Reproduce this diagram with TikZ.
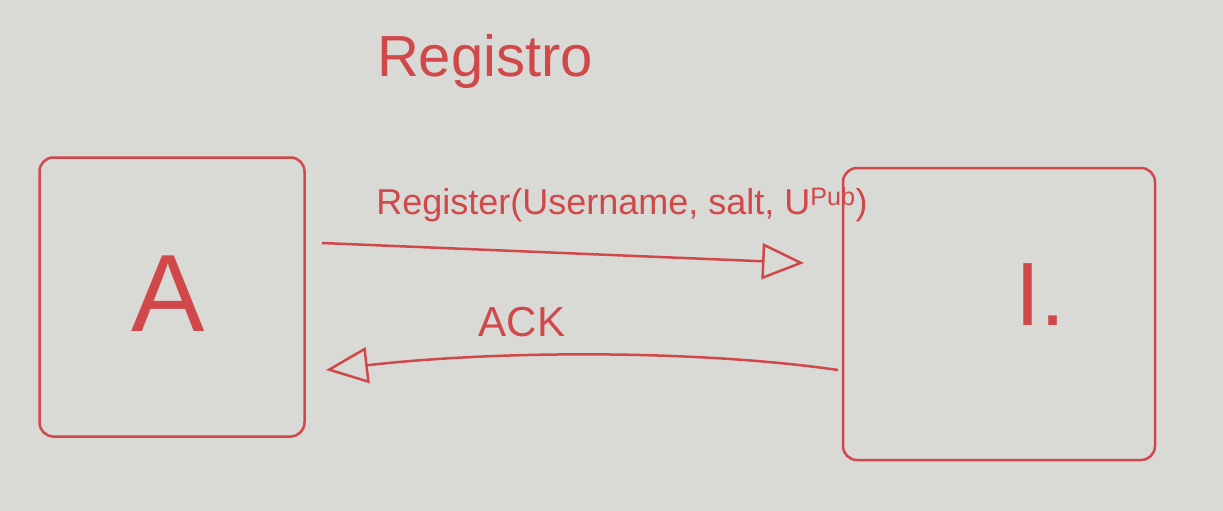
\documentclass[tikz,border=0pt]{standalone}
\usepackage{fontspec}
\setmainfont{Liberation Sans}
\usetikzlibrary{arrows.meta}
\definecolor{board}{HTML}{D9D9D5}
\definecolor{ink}{HTML}{D0484A}
\begin{document}
\begin{tikzpicture}[x=1pt,y=-1pt,
  box/.style={draw=ink, line width=2.5pt, rounded corners=14pt},
  msg/.style={draw=ink, line width=2.5pt, -{Triangle[open, length=42pt, width=36pt, line width=2.5pt]}},
  lbl/.style={text=ink, inner sep=0pt}]
\fill[board] (0,0) rectangle (1223,511);
\useasboundingbox (0,0) rectangle (1223,511);
\node[box, minimum width=265pt, minimum height=279pt] (A) at (172,297) {};
\node[box, minimum width=312pt, minimum height=292pt] (I) at (999,314) {};
\node[lbl, font=\fontsize{110}{110}\selectfont] at (168,294) {A};
\node[lbl, font=\fontsize{90}{90}\selectfont] at (1040,295) {I.};
\coordinate (s1) at (322,243);
\coordinate (e1) at (804,263);
\draw[msg] (s1) -- (e1);
\coordinate (s2) at (838,370);
\coordinate (e2) at (326,370);
\draw[msg] (s2) .. controls (700,350) and (500,350) .. (e2);
\node[lbl, font=\fontsize{58}{58}\selectfont] (reg) at (485,62) {Registro};
\node[lbl, font=\fontsize{36}{36}\selectfont] (m1) at (622,205) {Register(Username, salt, U\textsuperscript{Pub})};
\node[lbl, font=\fontsize{42}{42}\selectfont] (ack) at (522,322) {ACK};
\end{tikzpicture}
\end{document}
